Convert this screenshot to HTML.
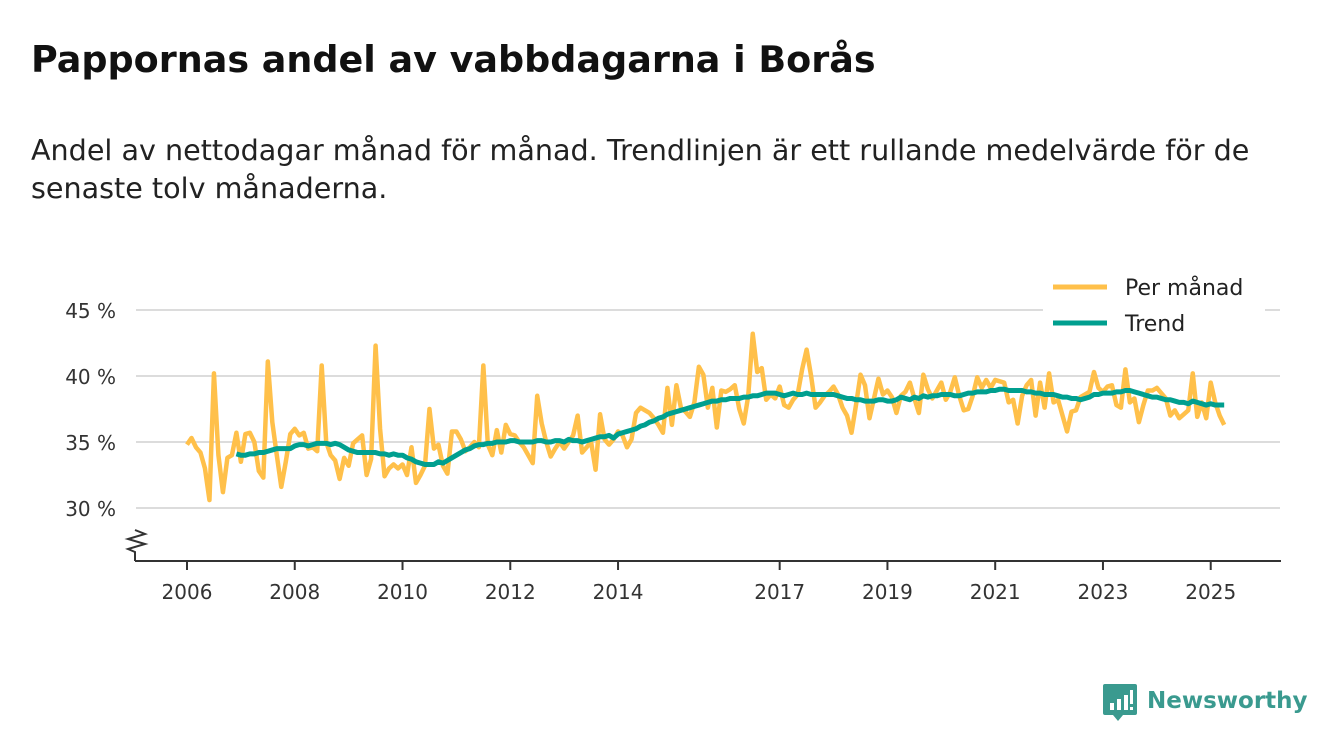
<!DOCTYPE html>
<html><head><meta charset="utf-8">
<style>
html,body{margin:0;padding:0;background:#fff;width:1340px;height:753px;overflow:hidden;font-family:"DejaVu Sans","Liberation Sans",sans-serif;}
h1{position:absolute;left:31px;top:38px;margin:0;font-size:36.5px;font-weight:bold;color:#111;}
p.sub{position:absolute;left:31px;top:131px;margin:0;font-size:28.6px;line-height:38px;color:#222;width:1300px;white-space:nowrap}
svg{position:absolute;left:0;top:0;font-family:"DejaVu Sans","Liberation Sans",sans-serif}
</style></head>
<body>
<h1>Pappornas andel av vabbdagarna i Borås</h1>
<p class="sub">Andel av nettodagar månad för månad. Trendlinjen är ett rullande medelvärde för de<br>senaste tolv månaderna.</p>
<svg id="chart" width="1340" height="753"></svg>
<script>
const monthly = [
34.8,35.3,34.6,34.2,33.0,30.6,40.2,34.0,31.2,33.8,34.0,35.7,
33.5,35.6,35.7,35.0,32.8,32.3,41.1,36.5,34.0,31.6,33.5,35.6,
36.0,35.5,35.7,34.5,34.6,34.3,40.8,35.0,34.0,33.6,32.2,33.8,
33.2,34.9,35.2,35.5,32.5,33.7,42.3,36.0,32.4,33.0,33.3,33.0,
33.3,32.5,34.6,31.9,32.5,33.2,37.5,34.5,34.8,33.2,32.6,35.8,
35.8,35.2,34.3,34.6,35.0,34.6,40.8,34.8,34.0,35.9,34.2,36.3,
35.6,35.5,35.0,34.6,34.0,33.4,38.5,36.4,35.0,33.9,34.5,35.0,
34.5,35.0,35.5,37.0,34.2,34.6,35.0,32.9,37.1,35.2,34.8,35.2,
35.8,35.5,34.6,35.2,37.2,37.6,37.4,37.2,36.8,36.3,35.7,39.1,
36.3,39.3,37.6,37.3,36.9,38.0,40.7,40.1,37.6,39.1,36.1,38.9,
38.8,39.0,39.3,37.5,36.4,38.5,43.2,40.3,40.6,38.2,38.6,38.3,
39.2,37.8,37.6,38.2,38.6,40.5,42.0,40.0,37.6,38.0,38.5,38.8,
39.2,38.6,37.6,37.0,35.7,37.8,40.1,39.3,36.8,38.3,39.8,38.6,
38.9,38.4,37.2,38.5,38.8,39.5,38.3,37.2,40.1,39.0,38.3,38.9,
39.5,38.2,38.8,39.9,38.5,37.4,37.5,38.5,39.9,39.1,39.7,39.1,
39.7,39.6,39.5,38.0,38.2,36.4,38.5,39.3,39.7,37.0,39.5,37.6,
40.2,38.0,38.2,37.0,35.8,37.3,37.4,38.4,38.6,38.8,40.3,39.1,
38.8,39.2,39.3,37.8,37.6,40.5,38.0,38.3,36.5,37.8,38.9,38.9,
39.1,38.7,38.3,37.0,37.4,36.8,37.1,37.4,40.2,36.9,38.0,36.8,
39.5,38.0,37.0,36.3];
const trendStart = 11;
const trend = [
34.1,
34.0,34.0,34.1,34.1,34.2,34.2,34.3,34.4,34.5,34.5,34.5,34.5,
34.7,34.8,34.8,34.7,34.8,34.9,34.9,34.9,34.8,34.9,34.8,34.6,
34.4,34.3,34.2,34.2,34.2,34.2,34.2,34.1,34.1,34.0,34.1,34.0,
34.0,33.8,33.7,33.5,33.4,33.3,33.3,33.3,33.5,33.4,33.6,33.8,
34.0,34.2,34.4,34.5,34.7,34.8,34.8,34.9,34.9,35.0,35.0,35.0,
35.1,35.1,35.0,35.0,35.0,35.0,35.1,35.1,35.0,35.0,35.1,35.1,
35.0,35.2,35.1,35.1,35.0,35.1,35.2,35.3,35.4,35.4,35.5,35.3,
35.6,35.7,35.8,35.9,36.0,36.2,36.3,36.5,36.6,36.8,36.9,37.1,
37.2,37.3,37.4,37.5,37.6,37.7,37.8,37.9,38.0,38.1,38.1,38.2,
38.2,38.3,38.3,38.3,38.4,38.4,38.5,38.5,38.6,38.7,38.7,38.7,
38.6,38.5,38.6,38.7,38.6,38.6,38.7,38.6,38.6,38.6,38.6,38.6,
38.6,38.5,38.4,38.3,38.3,38.2,38.2,38.1,38.1,38.1,38.2,38.2,
38.1,38.1,38.2,38.4,38.3,38.2,38.4,38.3,38.5,38.4,38.5,38.5,
38.6,38.6,38.6,38.5,38.5,38.6,38.7,38.7,38.8,38.8,38.8,38.9,
38.9,39.0,39.0,38.9,38.9,38.9,38.9,38.8,38.8,38.7,38.7,38.6,
38.6,38.6,38.5,38.4,38.4,38.3,38.3,38.2,38.3,38.4,38.6,38.6,
38.7,38.7,38.7,38.8,38.8,38.9,38.9,38.8,38.7,38.6,38.5,38.4,
38.4,38.3,38.2,38.2,38.1,38.0,38.0,37.9,38.1,38.0,37.9,37.8,
37.9,37.8,37.8,37.8];
const yTicks = [30,35,40,45];
const xTickYears = [2006,2008,2010,2012,2014,2017,2019,2021,2023,2025];
const startYear = 2006;

const NS="http://www.w3.org/2000/svg";
const svg=document.getElementById('chart');
const X0=187, pxMonth=4.49;
function xIdx(i){return X0+i*pxMonth;}
function xYear(y){return X0+(y-startYear)*12*pxMonth;}
function yV(v){return 310+(45-v)*13.2;}
function mk(tag,attrs,parent){const e=document.createElementNS(NS,tag);for(const k in attrs)e.setAttribute(k,attrs[k]);(parent||svg).appendChild(e);return e;}

yTicks.forEach(t=>{
  const g=mk('line',{x1:136,x2:1280,y1:yV(t),y2:yV(t),stroke:'#dcdcdc','stroke-width':2});
  
  
  const tx=mk('text',{x:116,y:yV(t)+8,'text-anchor':'end','font-size':20,fill:'#333'});
  tx.textContent=t+' %';
  
  
});
const ax=mk('line',{x1:135,x2:1281,y1:561,y2:561,stroke:'#333','stroke-width':2});


const zz=mk('polyline',{points:'135,561 135,552 128,549 145,544 128,539 145,534 135,530',fill:'none',stroke:'#333','stroke-width':2});


xTickYears.forEach(y=>{
  const x=xYear(y);
  const tk=mk('line',{x1:x,x2:x,y1:561,y2:570,stroke:'#333','stroke-width':2});
  
  
  const tx=mk('text',{x:x,y:599,'text-anchor':'middle','font-size':20,fill:'#333'});
  tx.textContent=y;
  
  
});
const mp=mk('polyline',{points:monthly.map((v,i)=>xIdx(i)+','+yV(v)).join(' '),fill:'none',stroke:'#ffc04a','stroke-width':4.5,'stroke-linejoin':'round'});


const tp=mk('polyline',{points:trend.map((v,i)=>xIdx(i+trendStart)+','+yV(v)).join(' '),fill:'none',stroke:'#009f8f','stroke-width':5,'stroke-linejoin':'round'});


const lb=mk('rect',{x:1043,y:268,width:222,height:74,fill:'#fff'});


[['Per månad','#ffc04a',287],['Trend','#009f8f',323]].forEach(([n,c,y])=>{
  const l=mk('line',{x1:1053,x2:1107,y1:y,y2:y,stroke:c,'stroke-width':5});
  
  
  const t=mk('text',{x:1125,y:y+8,'font-size':22,fill:'#222'});
  t.textContent=n;
  
  
});
const lg=mk('g',{});


mk('path',{d:'M1105,684 h30 a2,2 0 0 1 2,2 v27 a2,2 0 0 1 -2,2 h-12 l-5,6 l-5,-6 h-8 a2,2 0 0 1 -2,-2 v-27 a2,2 0 0 1 2,-2z',fill:'#3a9a8f'},lg);
mk('rect',{x:1110,y:703,width:4,height:7,fill:'#fff'},lg);
mk('rect',{x:1117,y:699,width:4,height:11,fill:'#fff'},lg);
mk('rect',{x:1124,y:695,width:4,height:15,fill:'#fff'},lg);
mk('rect',{x:1130,y:690,width:3,height:14,fill:'#fff'},lg);
mk('rect',{x:1130,y:707,width:3,height:3,fill:'#fff'},lg);
const lt=mk('text',{x:1147,y:708,'font-size':23,'font-weight':'bold',fill:'#3a9a8f'},lg);
lt.textContent='Newsworthy';
</script>
</body></html>
